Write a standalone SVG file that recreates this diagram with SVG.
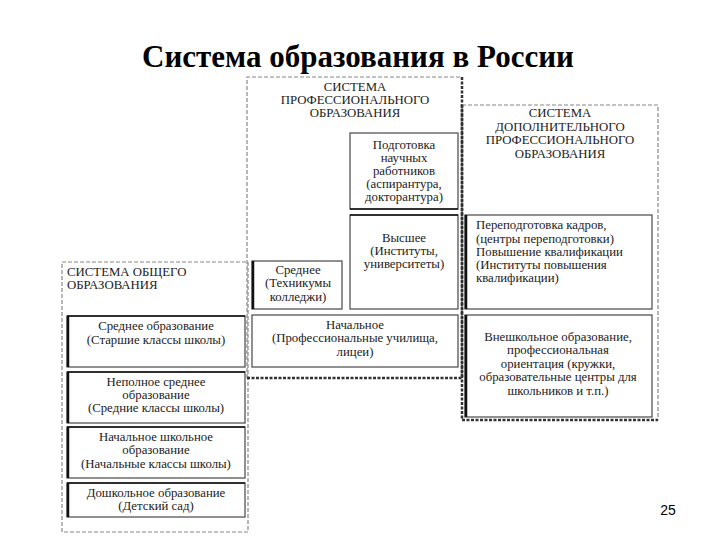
<svg xmlns="http://www.w3.org/2000/svg" width="720" height="540" viewBox="0 0 720 540">
<style>
text{font-family:"Liberation Serif","Times New Roman",serif;fill:#222;}
.t{font-size:12.8px;text-anchor:middle;}
.l{font-size:12.8px;text-anchor:start;}
.title{font-size:31px;font-weight:bold;text-anchor:middle;fill:#000;}
.num{font-family:"Liberation Sans",Arial,sans-serif;font-size:14px;text-anchor:middle;fill:#000;}
.dash{fill:none;stroke:#888;stroke-width:1.2;stroke-dasharray:4 2;}
.dashk{fill:none;stroke:#333;stroke-width:2.5;stroke-dasharray:3 1.5;}
.box{fill:#fff;stroke:#555;stroke-width:1.3;}
.edge{stroke:#111;stroke-width:2.5;}
.topedge{stroke:#111;stroke-width:1.5;}
</style>
<rect width="720" height="540" fill="#fff"/>
<text class="title" x="358" y="67">Система образования в России</text>

<g id="general-system">
<path class="dash" d="M62,262 H248 V532 H62 Z"/>
<text class="l" x="67" y="276">СИСТЕМА ОБЩЕГО</text>
<text class="l" x="67" y="289">ОБРАЗОВАНИЯ</text>
</g>

<g id="prof-system">
<path class="dash" d="M247,378 V77 H462"/>
<path class="dashk" d="M462,77 V378 H247"/>
<text class="t" x="355" y="91">СИСТЕМА</text>
<text class="t" x="355" y="104">ПРОФЕССИОНАЛЬНОГО</text>
<text class="t" x="355" y="117">ОБРАЗОВАНИЯ</text>
</g>

<g id="add-system">
<path class="dash" d="M462,105 H658 V420"/>
<path class="dashk" d="M462,105 V420 H658"/>
<text class="t" x="560" y="117">СИСТЕМА</text>
<text class="t" x="560" y="131">ДОПОЛНИТЕЛЬНОГО</text>
<text class="t" x="560" y="144">ПРОФЕССИОНАЛЬНОГО</text>
<text class="t" x="560" y="158">ОБРАЗОВАНИЯ</text>
</g>

<g id="podgotovka">
<rect class="box" x="350" y="133" width="108" height="76"/>
<line class="topedge" x1="350" y1="209" x2="458" y2="209"/>
<text class="t" x="404" y="149">Подготовка</text>
<text class="t" x="404" y="162">научных</text>
<text class="t" x="404" y="175">работников</text>
<text class="t" x="404" y="188">(аспирантура,</text>
<text class="t" x="404" y="201">докторантура)</text>
</g>

<g id="vysshee">
<rect class="box" x="350" y="215" width="108" height="94"/>
<line class="topedge" x1="350" y1="215" x2="458" y2="215"/>
<text class="t" x="404" y="242">Высшее</text>
<text class="t" x="404" y="255">(Институты,</text>
<text class="t" x="404" y="268">университеты)</text>
</g>

<g id="srednee-prof">
<rect class="box" x="252" y="261" width="90" height="48"/>
<line class="edge" x1="253" y1="261" x2="253" y2="309"/>
<text class="t" x="298" y="274">Среднее</text>
<text class="t" x="298" y="287">(Техникумы</text>
<text class="t" x="298" y="301">колледжи)</text>
</g>

<g id="nachalnoe-prof">
<rect class="box" x="252" y="315" width="206" height="52"/>
<text class="t" x="355" y="329">Начальное</text>
<text class="t" x="355" y="342">(Профессиональные училища,</text>
<text class="t" x="355" y="356">лицеи)</text>
</g>

<g id="perepodgotovka">
<rect class="box" x="465" y="215" width="187" height="94"/>
<line class="edge" x1="466" y1="215" x2="466" y2="309"/>
<text class="l" x="476" y="229">Переподготовка кадров,</text>
<text class="l" x="476" y="243">(центры переподготовки)</text>
<text class="l" x="476" y="256">Повышение квалификации</text>
<text class="l" x="476" y="269">(Институты повышения</text>
<text class="l" x="476" y="282">квалификации)</text>
</g>

<g id="vneshkolnoe">
<rect class="box" x="465" y="315" width="187" height="102"/>
<line class="edge" x1="466" y1="315" x2="466" y2="417"/>
<text class="t" x="558" y="341">Внешкольное образование,</text>
<text class="t" x="558" y="354">профессиональная</text>
<text class="t" x="558" y="368">ориентация (кружки,</text>
<text class="t" x="558" y="381">образовательные центры для</text>
<text class="t" x="558" y="395">школьников и т.п.)</text>
</g>

<g id="srednee-obshee">
<rect class="box" x="67" y="316" width="178" height="51"/>
<line class="edge" x1="68" y1="316" x2="68" y2="367"/>
<line class="topedge" x1="67" y1="316" x2="245" y2="316"/>
<text class="t" x="156" y="330">Среднее образование</text>
<text class="t" x="156" y="344">(Старшие классы школы)</text>
</g>

<g id="nepolnoe">
<rect class="box" x="67" y="372" width="178" height="51"/>
<line class="edge" x1="68" y1="372" x2="68" y2="423"/>
<line class="topedge" x1="67" y1="372" x2="245" y2="372"/>
<text class="t" x="156" y="386">Неполное среднее</text>
<text class="t" x="156" y="399">образование</text>
<text class="t" x="156" y="412">(Средние классы школы)</text>
</g>

<g id="nachalnoe-shkolnoe">
<rect class="box" x="67" y="427" width="178" height="51"/>
<line class="edge" x1="68" y1="427" x2="68" y2="478"/>
<line class="topedge" x1="67" y1="427" x2="245" y2="427"/>
<text class="t" x="156" y="441">Начальное школьное</text>
<text class="t" x="156" y="454">образование</text>
<text class="t" x="156" y="468">(Начальные классы школы)</text>
</g>

<g id="doshkolnoe">
<rect class="box" x="67" y="483" width="178" height="34"/>
<line class="edge" x1="68" y1="483" x2="68" y2="517"/>
<line class="topedge" x1="67" y1="483" x2="245" y2="483"/>
<text class="t" x="156" y="497">Дошкольное образование</text>
<text class="t" x="156" y="510">(Детский сад)</text>
</g>

<g id="connectors"></g>

<text class="num" x="668" y="515">25</text>
</svg>
